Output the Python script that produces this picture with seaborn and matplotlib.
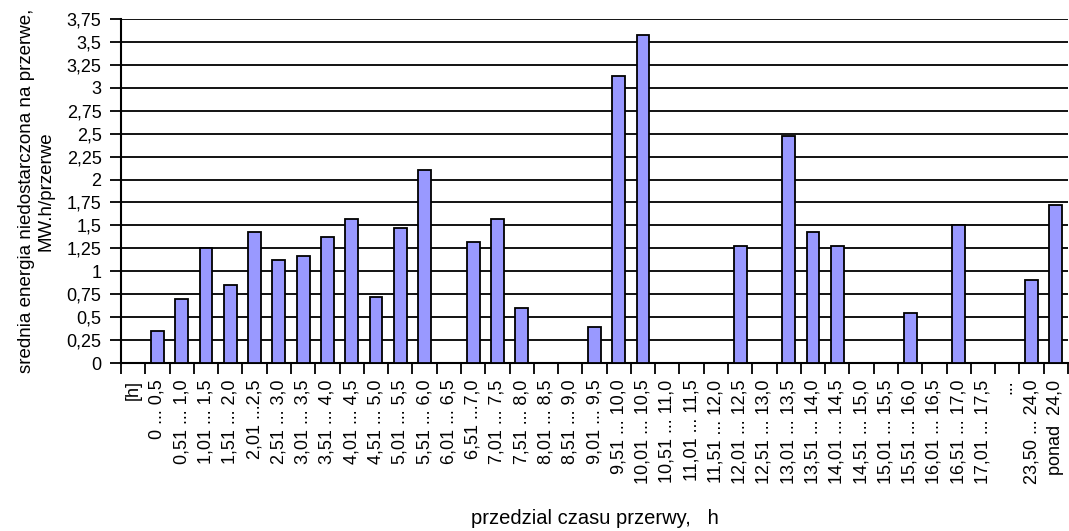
import numpy as np
import pandas as pd
import seaborn as sns
import matplotlib
matplotlib.use('Agg')
import matplotlib.pyplot as plt
from matplotlib.ticker import FixedLocator

# kategorie (przedzialy czasu przerwy) i wartosci sredniej energii niedostarczonej
przedzialy = ['[h]', '0 ... 0,5', '0,51 ... 1,0', '1,01 ... 1,5', '1,51 ... 2,0',
              '2,01 ...2,5', '2,51 ... 3,0', '3,01 ... 3,5', '3,51 ... 4,0',
              '4,01 ... 4,5', '4,51 ... 5,0', '5,01 ... 5,5', '5,51 ... 6,0',
              '6,01 ... 6,5', '6,51 ...7,0', '7,01 ... 7,5', '7,51 ... 8,0',
              '8,01 ... 8,5', '8,51 ... 9,0', '9,01 ... 9,5', '9,51 ... 10,0',
              '10,01 ... 10,5', '10,51 ... 11,0', '11,01 ... 11,5', '11,51 ... 12,0',
              '12,01 ... 12,5', '12,51 ... 13,0', '13,01 ... 13,5', '13,51 ... 14,0',
              '14,01 ... 14,5', '14,51 ... 15,0', '15,01 ... 15,5', '15,51 ... 16,0',
              '16,01 ... 16,5', '16,51 ... 17,0', '17,01 ... 17,5', '...',
              '23,50 ... 24,0', 'ponad  24,0']
energia = [0, 0.35, 0.70, 1.25, 0.85, 1.43, 1.12, 1.17, 1.37, 1.57, 0.72, 1.47,
           2.10, 0, 1.32, 1.57, 0.60, 0, 0, 0.39, 3.13, 3.58, 0, 0, 0, 1.27, 0,
           2.47, 1.43, 1.27, 0, 0, 0.55, 0, 1.50, 0, 0, 0.90, 1.72]
y_ticks = [0, 0.25, 0.5, 0.75, 1, 1.25, 1.5, 1.75, 2, 2.25, 2.5, 2.75, 3, 3.25, 3.5, 3.75]

df = pd.DataFrame({'przedzial': przedzialy, 'energia': energia})

plt.rcParams['font.family'] = ['Liberation Sans', 'DejaVu Sans']
fs = 13

fig = plt.figure(figsize=(10.69, 5.31), dpi=100)
ax = fig.add_axes([121 / 1069, 1 - 363 / 531, 947 / 1069, 344 / 531])

sns.barplot(data=df, x='przedzial', y='energia', order=przedzialy, color='#9999FF',
            saturation=1, edgecolor='black', linewidth=1.3, width=0.53, ax=ax, zorder=3)

ax.set_xlim(-0.5, len(przedzialy) - 0.5)
ax.set_ylim(0, 3.75)
ax.set_yticks(y_ticks)
ax.set_yticklabels([('%g' % v).replace('.', ',') for v in y_ticks], fontsize=fs)
ax.yaxis.grid(True, color='black', linewidth=1.3, zorder=0)
ax.set_axisbelow(True)

# znaczniki osi x miedzy kategoriami
ax.xaxis.set_minor_locator(FixedLocator(np.arange(-0.5, len(przedzialy), 1.0)))
ax.tick_params(axis='x', which='minor', length=8, width=1.3, color='black', direction='out')
ax.tick_params(axis='x', which='major', length=0, pad=12, labelsize=fs)
ax.tick_params(axis='y', length=8, width=1.3, color='black', pad=6, labelsize=fs)
plt.setp(ax.get_xticklabels(), rotation=90, va='top', ha='center')

for s in ['top', 'right']:
    ax.spines[s].set_visible(False)
for s in ['left', 'bottom']:
    ax.spines[s].set_color('black')
    ax.spines[s].set_linewidth(1.5)

ax.set_xlabel('przedzial czasu przerwy,   h', fontsize=14.5)
ax.set_ylabel('srednia energia niedostarczona na przerwe,\nMW.h/przerwe', fontsize=13.5)
ax.xaxis.set_label_coords(0.5, -0.425)
ax.yaxis.set_label_coords(-0.07, 0.5)

fig.savefig('out.png', dpi=100)
